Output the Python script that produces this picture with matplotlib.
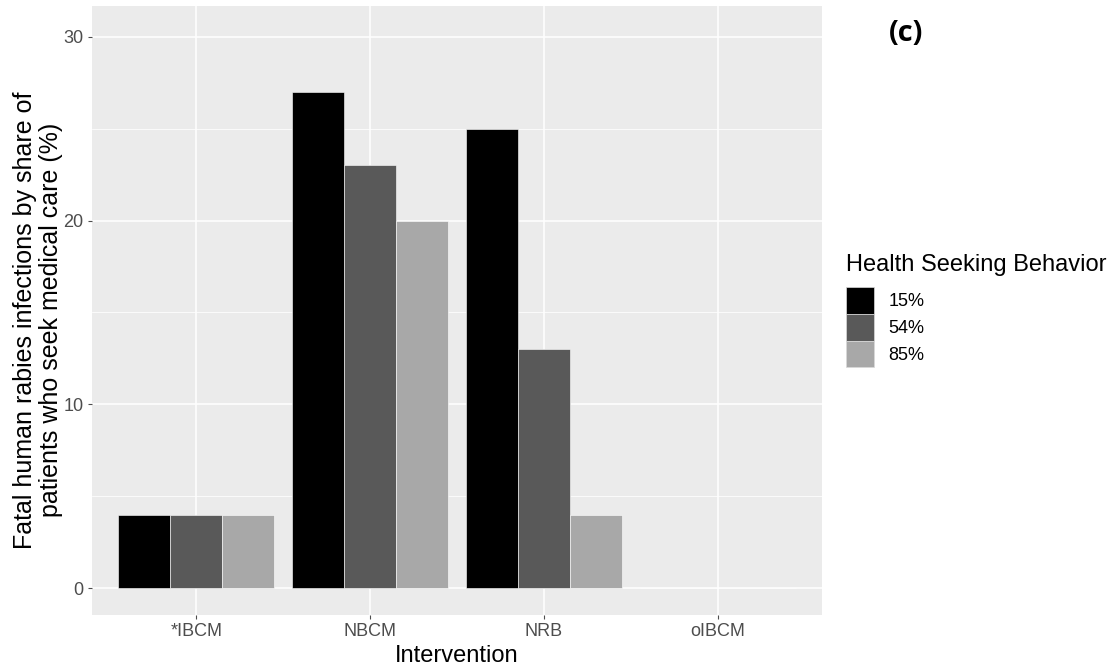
import numpy as np
import matplotlib.pyplot as plt
from matplotlib.patches import Patch

plt.rcParams['font.family'] = ['Liberation Sans', 'DejaVu Sans']

interventions = ["*IBCM", "NBCM", "NRB", "oIBCM"]
behaviours = ["15%", "54%", "85%"]
values_15 = [4, 27, 25, 0]
values_54 = [4, 23, 13, 0]
values_85 = [4, 20, 4, 0]
barColours = ["#000000", "#595959", "#a8a8a8"]

panelColour = "#ebebeb"
tickColour = "#4d4d4d"

fig = plt.figure(figsize=(11.16, 6.72), dpi=100)
ax = fig.add_axes([0.0824, 0.0848, 0.6542, 0.9062])
ax.set_facecolor(panelColour)

x = np.arange(1, len(interventions) + 1)
width = 0.3
for i, (vals, col) in enumerate(zip([values_15, values_54, values_85], barColours)):
    ax.bar(x + (i - 1) * width, vals, width=width, color=col, edgecolor="white", linewidth=0.4, zorder=3)

ax.set_xlim(0.4, 4.6)
ax.set_ylim(-1.47, 31.68)
ax.set_yticks([0, 10, 20, 30])
ax.set_yticks([5, 15, 25], minor=True)
ax.set_xticks(x)
ax.set_xticklabels(interventions)
ax.grid(which="major", color="white", linewidth=1.1, zorder=0)
ax.grid(which="minor", axis="y", color="white", linewidth=0.55, zorder=0)
ax.set_axisbelow(True)
for s in ax.spines.values():
    s.set_visible(False)
ax.tick_params(which="major", colors=tickColour, labelcolor=tickColour, labelsize=13, length=3, width=0.8, pad=3)
ax.tick_params(which="minor", length=0)
ax.set_xlabel("Intervention", fontsize=17, color="black", labelpad=3)

fig.text(0.034, 0.524, "Fatal human rabies infections by share of\npatients who seek medical care (%)",
         rotation=90, ha="center", va="center", fontsize=18, linespacing=1.15)

fig.text(0.8115, 0.95, "(c)", fontsize=21, fontweight="bold", family=['Open Sans', 'DejaVu Sans'], ha="center", va="center")

handles = [Patch(facecolor=c, edgecolor="#d9d9d9", linewidth=0.5) for c in barColours]
leg = fig.legend(handles, behaviours, title="Health Seeking Behavior", loc="upper left",
                 bbox_to_anchor=(0.758, 0.622), frameon=False, fontsize=13, title_fontsize=17,
                 handlelength=1.55, handleheight=1.9, labelspacing=0.0, handletextpad=0.8,
                 alignment="left", borderaxespad=0, borderpad=0)
leg._legend_box.sep = 8

plt.savefig("out.png", dpi=100)
